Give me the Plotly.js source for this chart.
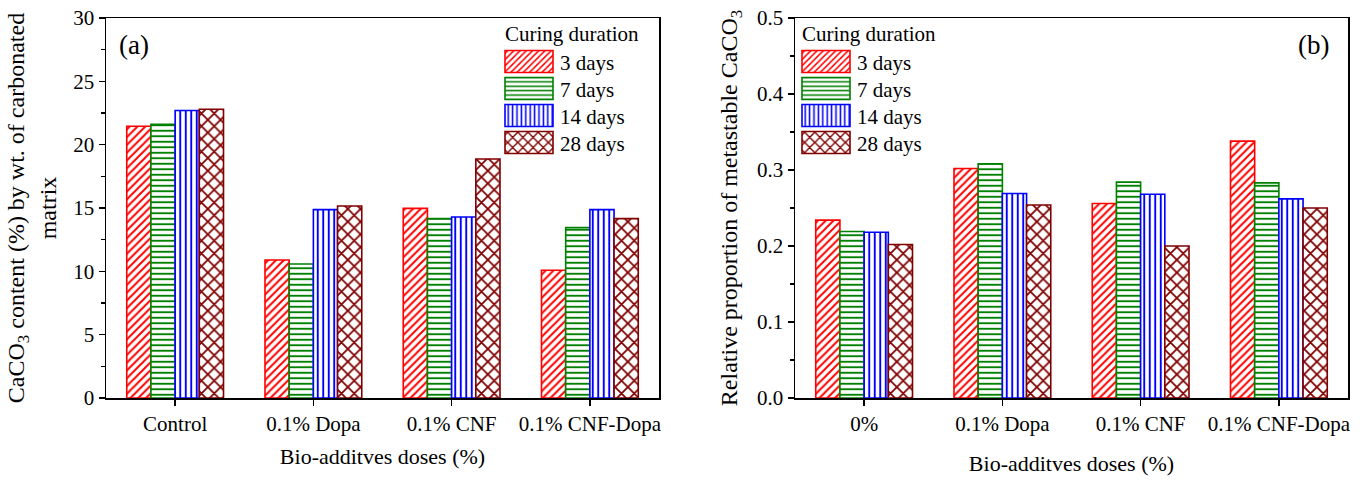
<!DOCTYPE html>
<html>
<head>
<meta charset="utf-8">
<script src="https://cdn.plot.ly/plotly-3.0.1.min.js"></script>
<style>
  html, body { margin: 0; padding: 0; background: #fff; }
  #chart { width: 1368px; height: 482px; }
</style>
</head>
<body>
<div id="chart"></div>
<script>
// Categories (bio-additive dose) for each panel
const dosesA = ['Control', '0.1% Dopa', '0.1% CNF', '0.1% CNF-Dopa'];
const dosesB = ['0%', '0.1% Dopa', '0.1% CNF', '0.1% CNF-Dopa'];
const durations = ['3 days', '7 days', '14 days', '28 days'];

// (a) CaCO3 content (%) by wt. of carbonated matrix
const caco3_3d  = [21.45, 10.90, 14.97, 10.08];
const caco3_7d  = [21.60, 10.58, 14.16, 13.45];
const caco3_14d = [22.70, 14.87, 14.29, 14.87];
const caco3_28d = [22.80, 15.16, 18.87, 14.16];

// (b) Relative proportion of metastable CaCO3
const meta_3d  = [0.234, 0.302, 0.256, 0.338];
const meta_7d  = [0.219, 0.308, 0.284, 0.283];
const meta_14d = [0.218, 0.269, 0.268, 0.262];
const meta_28d = [0.202, 0.254, 0.200, 0.250];

const colors = ['#ff0000', '#008000', '#0000ff', '#800000'];
const shapes = ['/', '-', '|', 'x'];
const seriesA = [caco3_3d, caco3_7d, caco3_14d, caco3_28d];
const seriesB = [meta_3d, meta_7d, meta_14d, meta_28d];

const FONT = 'Liberation Serif, Times New Roman, serif';

function barTrace(x, y, i, xa, ya, legendId) {
  return {
    type: 'bar', x: x, y: y, name: durations[i],
    xaxis: xa, yaxis: ya, legend: legendId,
    marker: {
      color: '#ffffff',
      line: { color: colors[i], width: 1.6 },
      pattern: { shape: shapes[i], fgcolor: colors[i], bgcolor: '#ffffff',
                 size: shapes[i] === 'x' ? 9 : 5.5, solidity: 0.35, fillmode: 'replace' }
    },
    hoverinfo: 'x+y'
  };
}

const data = [];
seriesA.forEach((s, i) => data.push(barTrace(dosesA, s, i, 'x', 'y', 'legend')));
seriesB.forEach((s, i) => data.push(barTrace(dosesB, s, i, 'x2', 'y2', 'legend2')));

const H = 482, W = 1368;
const axisLine = { showline: true, linecolor: '#000', linewidth: 1.5, mirror: true };
const tickFont = { family: FONT, size: 21, color: '#000' };

function xAxis(domain, standoff) {
  return Object.assign({}, axisLine, {
    domain: domain, type: 'category', range: [-0.5, 3.5],
    ticks: 'outside', ticklen: 6, tickwidth: 1.5, tickcolor: '#000',
    tickfont: tickFont, showgrid: false, zeroline: false, fixedrange: true,
    title: { text: 'Bio-additves doses (%)', font: { family: FONT, size: 22, color: '#000' }, standoff: standoff }
  });
}

function legendBox(xPx) {
  return {
    x: xPx / W, y: 1 - 14 / H, xanchor: 'left', yanchor: 'top',
    bgcolor: 'rgba(0,0,0,0)', borderwidth: 0, itemwidth: 40,
    font: { family: FONT, size: 21, color: '#000' },
    title: { text: 'Curing duration', font: { family: FONT, size: 21, color: '#000' } },
    tracegroupgap: 0, itemclick: false, itemdoubleclick: false
  };
}

const layout = {
  width: W, height: H,
  margin: { l: 0, r: 0, t: 0, b: 0 },
  paper_bgcolor: '#fff', plot_bgcolor: '#fff',
  barmode: 'group', bargap: 0.3, bargroupgap: 0,
  font: { family: FONT, color: '#000' },
  xaxis: xAxis([106 / W, 659 / W], 14),
  xaxis2: Object.assign(xAxis([795 / W, 1348 / W], 21), { anchor: 'y2' }),
  yaxis: Object.assign({}, axisLine, {
    domain: [1 - 398 / H, 1 - 18 / H], range: [0, 30], dtick: 5,
    ticks: 'outside', ticklen: 6, tickwidth: 1.5, tickcolor: '#000',
    minor: { dtick: 2.5, ticks: 'outside', ticklen: 3.5, tickwidth: 1.2, tickcolor: '#000', showgrid: false },
    tickfont: tickFont, showgrid: false, zeroline: false, fixedrange: true,
    title: { text: 'CaCO<sub>3</sub> content (%) by wt. of carbonated<br>matrix',
             font: { family: FONT, size: 24, color: '#000' }, standoff: 10 }
  }),
  yaxis2: Object.assign({}, axisLine, {
    anchor: 'x2',
    domain: [1 - 398 / H, 1 - 18 / H], range: [0, 0.5], dtick: 0.1, tickformat: '.1f',
    ticks: 'outside', ticklen: 6, tickwidth: 1.5, tickcolor: '#000',
    minor: { dtick: 0.05, ticks: 'outside', ticklen: 3.5, tickwidth: 1.2, tickcolor: '#000', showgrid: false },
    tickfont: tickFont, showgrid: false, zeroline: false, fixedrange: true,
    title: { text: 'Relative proportion of metastable CaCO<sub>3</sub>',
             font: { family: FONT, size: 24, color: '#000' }, standoff: 12 }
  }),
  legend: legendBox(505),
  legend2: legendBox(801),
  annotations: [
    { text: '(a)', xref: 'x domain', yref: 'y domain', x: 0.02, y: 0.93,
      xanchor: 'left', yanchor: 'middle', showarrow: false,
      font: { family: FONT, size: 27, color: '#000' } },
    { text: '(b)', xref: 'x2 domain', yref: 'y2 domain', x: 0.97, y: 0.93,
      xanchor: 'right', yanchor: 'middle', showarrow: false,
      font: { family: FONT, size: 27, color: '#000' } }
  ],
  showlegend: true
};

// Legend styling: title aligned with wide rectangular swatches (48 x 22 px),
// labels just right of them, rows spaced evenly.
const LEGEND_LEFT = [505, 802];   // px, left edge of title/swatches per panel
const ROW = 27, SW = 48, GAP = 7;

function parseTranslate(el) {
  const m = /translate\(\s*([-\d.e]+)[ ,]+([-\d.e]+)\s*\)/.exec(el.getAttribute('transform') || '');
  return m ? [parseFloat(m[1]), parseFloat(m[2])] : [0, 0];
}

function styleLegends(gd) {
  // legend titles are classed "<legendId>titletext" (legendtitletext, legend2titletext, ...)
  const titles = Array.from(gd.querySelectorAll('text[class^="legend"][class$="titletext"]'));
  titles.forEach(title => {
    // climb to the group that holds both the title and the legend items
    let leg = title.parentNode;
    while (leg && leg !== gd && !leg.querySelector('g.traces')) leg = leg.parentNode;
    if (!leg || leg === gd) return;
    // then to the outermost legend container (child of the info layer)
    let box = leg;
    while (box.parentNode && box.parentNode !== gd &&
           !(box.parentNode.classList && box.parentNode.classList.contains('infolayer'))) box = box.parentNode;

    const items = Array.from(leg.querySelectorAll('g.traces'));
    const target = title.getBoundingClientRect().left < W / 2 ? LEGEND_LEFT[0] : LEGEND_LEFT[1];

    // shift the whole legend so the title starts at the target edge
    const [lx, ly] = parseTranslate(box);
    const dx = target - title.getBoundingClientRect().left;
    box.setAttribute('transform', 'translate(' + (lx + dx) + ',' + ly + ')');

    // even row spacing
    let y0 = null;
    items.forEach((item, k) => {
      const [tx, ty] = parseTranslate(item);
      if (y0 === null) y0 = ty;
      item.setAttribute('transform', 'translate(' + tx + ',' + (y0 + k * ROW) + ')');
    });

    items.forEach(item => {
      const text = item.querySelector('text');
      const path = item.querySelector('path');
      if (!text || !path) return;
      const shift = (target + SW + GAP) - text.getBoundingClientRect().left;
      text.setAttribute('x', parseFloat(text.getAttribute('x') || 0) + shift);
      text.querySelectorAll('tspan[x]').forEach(ts => ts.setAttribute('x', parseFloat(ts.getAttribute('x')) + shift));
      const origin = path.getScreenCTM().e;
      const left = target - origin, right = target + SW - origin;
      path.setAttribute('d', 'M' + right + ',11H' + left + 'V-11H' + right + 'Z');
    });
  });
}

Plotly.newPlot('chart', data, layout, { displayModeBar: false, staticPlot: true })
  .then(gd => styleLegends(gd));
</script>
</body>
</html>
